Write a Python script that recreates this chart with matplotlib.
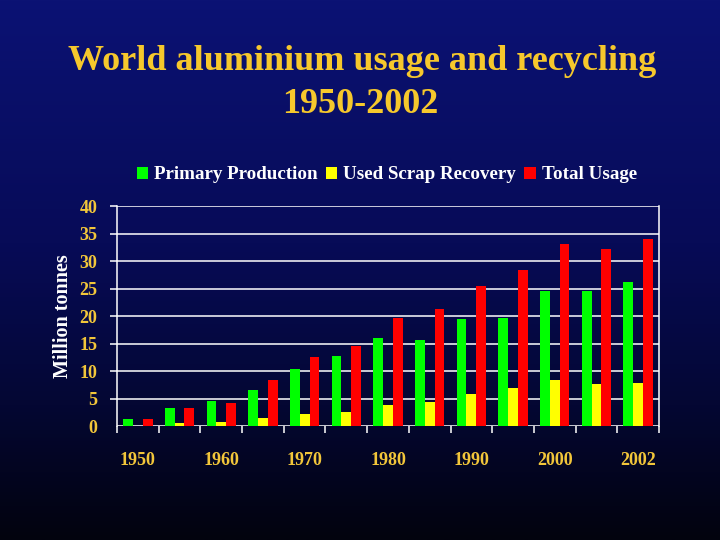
import numpy as np
import matplotlib
matplotlib.use("Agg")
import matplotlib.pyplot as plt
from matplotlib.colors import LinearSegmentedColormap

years = ["1950", "1955", "1960", "1965", "1970", "1975", "1980",
         "1985", "1990", "1995", "2000", "2001", "2002"]
tick_labels = ["1950", "", "1960", "", "1970", "", "1980", "", "1990", "", "2000", "", "2002"]
primary = [1.3, 3.2, 4.6, 6.6, 10.4, 12.8, 16.0, 15.6, 19.5, 19.6, 24.5, 24.5, 26.2]
scrap = [0.0, 0.6, 0.8, 1.5, 2.2, 2.6, 3.8, 4.4, 5.8, 6.9, 8.4, 7.6, 7.8]
total = [1.3, 3.2, 4.2, 8.4, 12.6, 14.6, 19.6, 21.3, 25.5, 28.4, 33.1, 32.2, 34.0]

serif = ["Liberation Serif", "DejaVu Serif"]
gold = "#F2C63A"
title_col = "#F6C82C"

fig = plt.figure(figsize=(7.2, 5.4), dpi=100)

# background gradient
bg = fig.add_axes([0, 0, 1, 1], zorder=-10)
cmap = LinearSegmentedColormap.from_list(
    "bg", [(0.0, "#0B1274"), (0.45, "#070B57"), (0.75, "#040733"), (1.0, "#02030E")])
grad = np.linspace(0, 1, 256).reshape(-1, 1)
bg.imshow(grad, aspect="auto", cmap=cmap, extent=[0, 1, 0, 1], origin="upper")
bg.set_axis_off()

ax = fig.add_axes([0.1625, 0.2111, 0.7528, 0.4074])
ax.set_facecolor("none")
x = np.arange(len(years))
w = 0.235
ax.bar(x - w, primary, w, color="#00FF00", label="Primary Production", zorder=3)
ax.bar(x, scrap, w, color="#FFFF00", label="Used Scrap Recovery", zorder=3)
ax.bar(x + w, total, w, color="#FF0000", label="Total Usage", zorder=3)

ax.set_xlim(-0.5, len(years) - 0.5)
ax.set_ylim(0, 40)
ax.set_yticks(np.arange(0, 41, 5))
ax.yaxis.grid(True, color="white", linewidth=1.1, zorder=1)
ax.set_axisbelow(True)
for s in ["top", "bottom"]:
    ax.spines[s].set_visible(False)
for s in ["left", "right"]:
    ax.spines[s].set_color("white")
    ax.spines[s].set_linewidth(1.1)

ax.set_xticks(x)
ax.set_xticklabels(tick_labels)
ax.set_xticks(np.arange(-0.5, len(years), 1.0), minor=True)
ax.tick_params(axis="x", which="major", length=0, pad=19, labelcolor=gold, labelsize=13)
ax.tick_params(axis="x", which="minor", length=5, width=1.1, color="white", direction="out")
ax.tick_params(axis="y", length=5, width=1.1, color="white", pad=9, labelcolor=gold, labelsize=13)
ax.yaxis.get_major_ticks()[0].tick1line.set_visible(False)
for lab in ax.get_xticklabels() + ax.get_yticklabels():
    lab.set_fontfamily(serif)
    lab.set_fontweight("bold")

ax.set_ylabel("Million tonnes", color="white", fontsize=14.5, fontweight="bold",
              family=serif, labelpad=5)

leg = fig.legend(loc="center", bbox_to_anchor=(0.537, 0.676), ncol=3, frameon=False,
                 prop={"family": serif, "weight": "bold", "size": 13.7},
                 handlelength=0.6, handleheight=0.6, handletextpad=0.3, columnspacing=0.45,
                 labelcolor="white")

fig.text(0.503, 0.870, "World aluminium usage and recycling", ha="center", va="baseline",
         color=title_col, fontsize=26, fontweight="bold", family=serif)
fig.text(0.500, 0.791, "1950-2002", ha="center", va="baseline",
         color=title_col, fontsize=26, fontweight="bold", family=serif)

fig.savefig("out.png", dpi=100)
